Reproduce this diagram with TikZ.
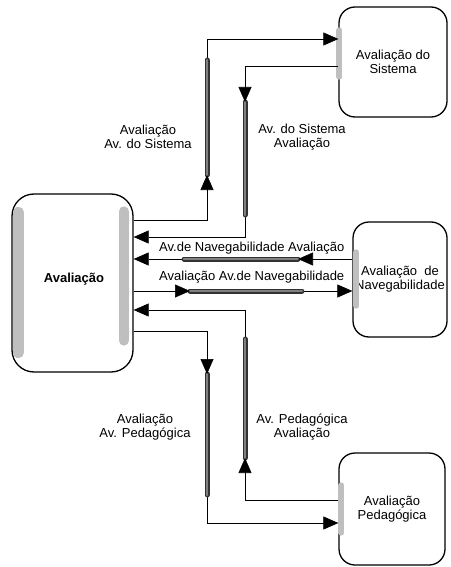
\documentclass[tikz,border=0pt]{standalone}
\usepackage{fontspec}
\setmainfont{Liberation Sans}
\usetikzlibrary{arrows.meta,positioning}

\begin{document}
\begin{tikzpicture}[x=1pt, y=-1pt, font=\fontsize{13}{14}\selectfont,
    proc/.style={rectangle, draw, line width=1.3pt, rounded corners=16pt, inner sep=0pt, align=center},
    port/.style={draw=gray!50, line width=6pt, line cap=round},
    flow/.style={draw, line width=0.6pt},
    tip/.style={-{Triangle[length=15pt,width=13pt]}, line width=0.6pt},
    channel/.style={draw=black!80, line width=1.1pt, double=black!50, double distance=2.8pt, line cap=round},
    lbl/.style={align=center, inner sep=1pt}]
    \useasboundingbox (0,0) rectangle (450,567);

    \node[proc, rounded corners=22pt, minimum width=121pt, minimum height=178pt] (aval) at (72.5,283) {};
    \node[font=\fontsize{13}{14}\selectfont\bfseries] (avaltxt) at (74,279) {Avaliação};
    \node[proc, minimum width=108pt, minimum height=110pt] (sis) at (393,62) {Avaliação do\\Sistema};
    \node[proc, minimum width=94pt, minimum height=115pt] (nav) at (400,279.5) {Avaliação\ \ de\\Navegabilidade};
    \node[proc, minimum width=106pt, minimum height=112pt] (ped) at (392,509) {Avaliação\\Pedagógica};

    % gray ports on the boxes
    \draw[port, line width=11pt] ([xshift=7pt,yshift=-19pt]aval.north west) -- ([xshift=7pt,yshift=20pt]aval.south west);
    \draw[port, line width=10pt] ([xshift=-10pt,yshift=-18pt]aval.north east) -- ([xshift=-10pt,yshift=32pt]aval.south east);
    \draw[port] ([xshift=1pt,yshift=-24pt]sis.north west) -- ([xshift=1pt,yshift=41pt]sis.south west);
    \draw[port] ([xshift=4pt,yshift=-31pt]nav.north west) -- ([xshift=4pt,yshift=32pt]nav.south west);
    \draw[port] ([xshift=3pt,yshift=-33pt]ped.north west) -- ([xshift=3pt,yshift=33pt]ped.south west);

    % bends and channel ends
    \coordinate (b1a) at (207,220); \coordinate (b1b) at (207,39);
    \coordinate (b2a) at (245,66);  \coordinate (b2b) at (245,237);
    \coordinate (b3) at (353,259);  \coordinate (b4) at (133,291);
    \coordinate (b5a) at (245,500); \coordinate (b5b) at (245,310);
    \coordinate (b6a) at (207,331); \coordinate (b6b) at (207,523);
    \coordinate (c1a) at (207,175); \coordinate (c1b) at (207,60);
    \coordinate (c2a) at (245,102); \coordinate (c2b) at (245,215);
    \coordinate (c3a) at (298,259); \coordinate (c3b) at (184,259);
    \coordinate (c4a) at (190,291); \coordinate (c4b) at (302,291);
    \coordinate (c5a) at (245,458); \coordinate (c5b) at (245,339);
    \coordinate (c6a) at (207,374); \coordinate (c6b) at (207,495);

    % Sistema
    \draw[flow, tip] (aval.east |- b1a) -- (b1a) -- (b1b) -- (b1b -| sis.west);
    \draw[channel] (c1a) -- (c1b);
    \draw[tip] ([yshift=-17pt]c1a) -- (c1a);
    \draw[flow, tip] (b2a -| sis.west) -- (b2a) -- (b2b) -- (b2b -| aval.east);
    \draw[channel] (c2a) -- (c2b);
    \draw[tip] ([yshift=16pt]c2a) -- (c2a);

    % Navegabilidade
    \draw[flow, tip] (b3 -| nav.west) -- node[above=1pt, pos=0.46] {Av.de Navegabilidade Avaliação} (b3 -| aval.east);
    \draw[channel] (c3a) -- (c3b);
    \draw[tip] ([xshift=15pt]c3a) -- (c3a);
    \draw[flow, tip] (b4 -| aval.east) -- node[above=4pt, pos=0.54] {Avaliação Av.de Navegabilidade} (b4 -| nav.west);
    \draw[channel] (c4a) -- (c4b);
    \draw[tip] ([xshift=-15pt]c4a) -- (c4a);

    % Pedagogica
    \draw[flow, tip] (b5a -| ped.west) -- (b5a) -- (b5b) -- (b5b -| aval.east);
    \draw[channel] (c5a) -- (c5b);
    \draw[tip] ([yshift=-16pt]c5a) -- (c5a);
    \draw[flow, tip] (aval.east |- b6a) -- (b6a) -- (b6b) -- (b6b -| ped.west);
    \draw[channel] (c6a) -- (c6b);
    \draw[tip] ([yshift=15pt]c6a) -- (c6a);

    \node[lbl] (l1) at (148,137) {Avaliação\\Av. do Sistema};
    \node[lbl] (l2) at (302,137) {Av. do Sistema\\Avaliação};
    \node[lbl] (l5) at (302,427) {Av. Pedagógica\\Avaliação};
    \node[lbl] (l6) at (145,427) {Avaliação\\Av. Pedagógica};
\end{tikzpicture}
\end{document}
